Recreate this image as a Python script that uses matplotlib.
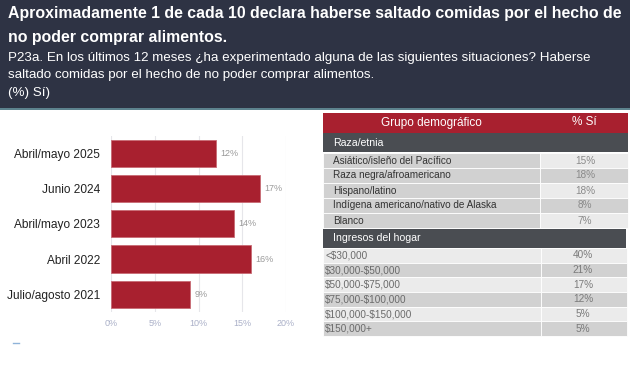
import matplotlib.pyplot as plt
from matplotlib.patches import Rectangle

# datos del gráfico de barras
periods = ['Abril/mayo 2025', 'Junio 2024', 'Abril/mayo 2023', 'Abril 2022', 'Julio/agosto 2021']
pct_si = [12, 17, 14, 16, 9]
x_ticks = [0, 5, 10, 15, 20]

# datos de la tabla
race_groups = ['Asiático/isleño del Pacífico', 'Raza negra/afroamericano', 'Hispano/latino',
               'Indígena americano/nativo de Alaska', 'Blanco']
race_pct = [15, 18, 18, 8, 7]
income_groups = ['<$30,000', '$30,000-$50,000', '$50,000-$75,000', '$75,000-$100,000',
                 '$100,000-$150,000', '$150,000+']
income_pct = [40, 21, 17, 12, 5, 5]

title = 'Aproximadamente 1 de cada 10 declara haberse saltado comidas por el hecho de\nno poder comprar alimentos.'
subtitle = ('P23a. En los últimos 12 meses ¿ha experimentado alguna de las siguientes situaciones? Haberse\n'
            'saltado comidas por el hecho de no poder comprar alimentos.\n(%) Sí)')

RED = '#a8202f'
DARK = '#4a4d52'
NAVY = '#2e3344'
LIGHT = '#ebebeb'
MID = '#d1d1d1'

plt.rcParams['font.family'] = ['Liberation Sans', 'DejaVu Sans']

W, H = 630, 367
fig = plt.figure(figsize=(W / 100, H / 100), dpi=100)
fig.patch.set_facecolor('white')

# capa de fondo en coordenadas de pixel
bg = fig.add_axes([0, 0, 1, 1])
bg.set_xlim(0, W)
bg.set_ylim(H, 0)
bg.axis('off')

bg.add_patch(Rectangle((0, 0), W, 108, color=NAVY, lw=0))
bg.plot([0, W], [108.5, 108.5], color='#3d6b78', lw=1.2)
bg.text(8, 6, title, color='white', fontsize=11.4, fontweight='bold', va='top', linespacing=1.72)
bg.text(8, 52, subtitle, color='white', fontsize=9.6, va='top', linespacing=1.6)

# tabla
tx0, tx1, tdiv = 323, 628, 540
bg.add_patch(Rectangle((tx0, 113), tx1 - tx0, 20, color=RED, lw=0))
bg.text((tx0 + tdiv) / 2, 123, 'Grupo demográfico', color='white', fontsize=8.5, ha='center', va='center')
bg.text((tdiv + tx1) / 2, 122, '% Sí', color='white', fontsize=8.5, ha='center', va='center')

bg.add_patch(Rectangle((tx0, 133), tx1 - tx0, 19, color=DARK, lw=0))
bg.text(333, 143, 'Raza/etnia', color='white', fontsize=7.6, va='center')

rh = 15.0
y = 153
for i, (g, v) in enumerate(zip(race_groups, race_pct)):
    bg.add_patch(Rectangle((tx0, y), tdiv - tx0, rh, facecolor=MID, edgecolor='white', lw=0.6))
    bg.add_patch(Rectangle((tdiv, y), tx1 - tdiv, rh, facecolor=LIGHT if i % 2 == 0 else MID,
                           edgecolor='white', lw=0.6))
    bg.text(333, y + rh / 2, g, color='#333333', fontsize=7.2, va='center')
    bg.text((tdiv + tx1) / 2 + 1, y + rh / 2, f'{v}%', color='#8a8a8a', fontsize=7.2, ha='center', va='center')
    y += rh

bg.add_patch(Rectangle((tx0, 229), 626 - tx0, 19, color=DARK, lw=0))
bg.text(333, 238, 'Ingresos del hogar', color='white', fontsize=7.6, va='center')

rh = 14.7
y = 248
for i, (g, v) in enumerate(zip(income_groups, income_pct)):
    c = LIGHT if i % 2 == 0 else MID
    bg.add_patch(Rectangle((tx0, y), 541 - tx0, rh, facecolor=c, edgecolor='white', lw=0.6))
    bg.add_patch(Rectangle((541, y), 627 - 541, rh, facecolor=c, edgecolor='white', lw=0.6))
    bg.text(325, y + rh / 2, g, color='#6a6a6a', fontsize=7.2, va='center', parse_math=False)
    bg.text(583, y + rh / 2, f'{v}%', color='#7a7a7a', fontsize=7.2, ha='center', va='center')
    y += rh

bg.plot([13, 19], [343, 343], color='#8fb3d9', lw=1)

# gráfico de barras
ax = fig.add_axes([111 / W, (H - 312) / H, 175 / W, 176.5 / H])
pos = list(range(len(periods)))
ax.barh(pos, pct_si, height=0.77, color=RED, edgecolor='#c86a74', lw=0.6, zorder=3)
for p, v in zip(pos, pct_si):
    ax.text(v + 0.5, p, f'{v}%', color='#9a9a9a', fontsize=6.5, va='center')
ax.set_xlim(0, 20)
ax.set_ylim(len(periods) - 0.5, -0.5)
ax.set_xticks(x_ticks)
ax.set_xticklabels([f'{t}%' for t in x_ticks], color='#aab0c8', fontsize=6.5)
ax.set_yticks(pos)
ax.set_yticklabels(periods, fontsize=8.6, color='#222222')
ax.tick_params(length=0)
ax.tick_params(axis='y', pad=8)
ax.tick_params(axis='x', pad=5)
ax.grid(axis='x', color='#e6e6ea', lw=0.8, zorder=0)
for s in ax.spines.values():
    s.set_visible(False)

fig.savefig('out.png', dpi=100)
